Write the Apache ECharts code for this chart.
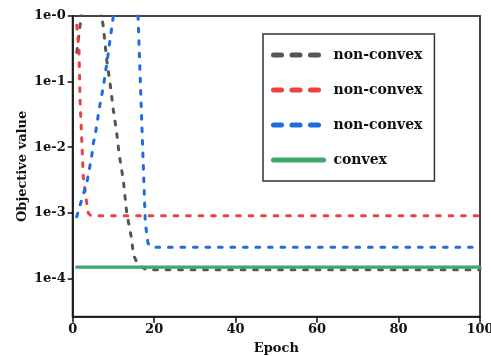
<!DOCTYPE html>
<html>
<head>
<meta charset="utf-8">
<script src="https://cdn.jsdelivr.net/npm/echarts@6/dist/echarts.min.js"></script>
<style>html,body{margin:0;padding:0;background:#fff;}#chart{width:491px;height:356px;}</style>
</head>
<body>
<div id="chart"></div>
<script>
// ---- data ----
const seriesNames = ['non-convex', 'non-convex', 'non-convex', 'convex'];

const grayEpochs = [1.0, 1.5, 2.1, 4.7, 7.12, 7.51, 8.35, 9.16, 9.97, 10.8, 11.37, 12.42, 13.26, 14.49, 14.88, 15.71, 17.0, 18.24, 100];
const grayValues = [0.28, 0.5, 1.0, 30, 1.0, 0.687, 0.214, 0.0955, 0.0372, 0.0166, 0.0081, 0.00316, 0.001, 0.00039, 0.00023, 0.000178, 0.000148, 0.000135, 0.000135];

const redEpochs = [1.0, 1.25, 1.55, 1.8, 2.3, 2.6, 3.2, 3.8, 4.3, 5.0, 100];
const redValues = [0.72, 0.69, 0.30, 0.052, 0.010, 0.0035, 0.0018, 0.0010, 0.00092, 0.0009, 0.0009];

const blueEpochs = [0.98, 2.21, 3.44, 4.66, 5.06, 5.48, 6.46, 7.51, 8.5, 9.16, 9.97, 13.0, 16.04, 17.83, 18.5, 19.5, 100];
const blueValues = [0.00087, 0.00158, 0.0028, 0.0072, 0.0115, 0.0145, 0.037, 0.083, 0.214, 0.43, 0.98, 10, 1.0, 0.00069, 0.00034, 0.000298, 0.000298];

const greenEpochs = [1, 100];
const greenValues = [0.000148, 0.000148];

const xTicks = [0, 20, 40, 60, 80, 100];
const yTickValues = [1e-4, 1e-3, 1e-2, 1e-1, 1];
const yTickLabels = ['1e-4', '1e-3', '1e-2', '1e-1', '1e-0'];

// ---- chart ----
const zip = (xs, ys) => xs.map((x, i) => [x, ys[i]]);
const colors = ['#555555', '#ec4141', '#1c6ee0', '#3aaa66'];
const font = 'DejaVu Serif';

const chart = echarts.init(document.getElementById('chart'), null, {renderer: 'canvas'});
const dash = [3.7, 8.8];
const mk = (i, data, dashed) => ({
  name: seriesNames[i] + (i < 3 ? '\u200b'.repeat(i) : ''),
  type: 'line',
  data: data,
  symbol: 'none',
  clip: true,
  z: 2 + i,
  lineStyle: {color: colors[i], width: dashed ? 3 : 3.3, type: dashed ? dash : 'solid', cap: 'round'},
  itemStyle: {color: colors[i]}
});
const series = [
  mk(0, zip(grayEpochs, grayValues), true),
  mk(1, zip(redEpochs, redValues), true),
  mk(2, zip(blueEpochs, blueValues), true),
  mk(3, zip(greenEpochs, greenValues), false)
];

chart.setOption({
  animation: false,
  backgroundColor: '#fff',
  grid: {left: 72.7, right: 11, top: 16, bottom: 39.3, show: true, borderColor: '#444', borderWidth: 2,
    containLabel: false, outerBoundsMode: 'none'},
  xAxis: {
    type: 'value', min: 0, max: 100, interval: 20,
    name: 'Epoch', nameLocation: 'middle', nameGap: 25, nameMoveOverlap: false,
    nameTextStyle: {fontFamily: font, fontWeight: 'bold', fontSize: 13, color: '#111'},
    axisLine: {show: true, lineStyle: {color: '#111', width: 1.5}},
    axisTick: {show: true, length: 6, inside: false, lineStyle: {color: '#111', width: 1.5}},
    axisLabel: {fontFamily: font, fontWeight: 'bold', fontSize: 13, color: '#111', margin: 6,
      customValues: xTicks, formatter: v => String(v)},
    splitLine: {show: false}
  },
  yAxis: {
    type: 'log', logBase: 10, min: 2.6e-5, max: 1,
    name: 'Objective value', nameLocation: 'middle', nameGap: 44, nameMoveOverlap: false,
    nameTextStyle: {fontFamily: font, fontWeight: 'bold', fontSize: 13, color: '#111'},
    axisLine: {show: true, lineStyle: {color: '#111', width: 1.5}},
    axisTick: {show: true, length: 5, inside: false, customValues: yTickValues, lineStyle: {color: '#111', width: 1.5}},
    axisLabel: {fontFamily: font, fontWeight: 'bold', fontSize: 13, color: '#111', margin: 7,
      customValues: yTickValues,
      formatter: v => { const i = yTickValues.findIndex(t => Math.abs(Math.log10(t) - Math.log10(v)) < 1e-6); return i >= 0 ? yTickLabels[i] : ''; }},
    splitLine: {show: false}
  },
  legend: {
    orient: 'vertical', left: 263, top: 34,
    padding: [14, 12, 14, 8],
    itemWidth: 50, itemHeight: 14, itemGap: 21,
    borderColor: '#333', borderWidth: 1.5, backgroundColor: '#fff',
    textStyle: {fontFamily: font, fontWeight: 'bold', fontSize: 14, color: '#111', padding: [0, 0, 0, 5]},
    data: series.map((s, i) => ({
      name: s.name,
      itemStyle: {opacity: 0, color: 'transparent', borderWidth: 0},
      lineStyle: i < 3 ? {width: 5, type: [8, 10.5], cap: 'round', color: colors[i], opacity: 1} : {width: 5, type: 'solid', cap: 'round', color: colors[i], opacity: 1}
    }))
  },
  series: series
});
</script>
</body>
</html>
